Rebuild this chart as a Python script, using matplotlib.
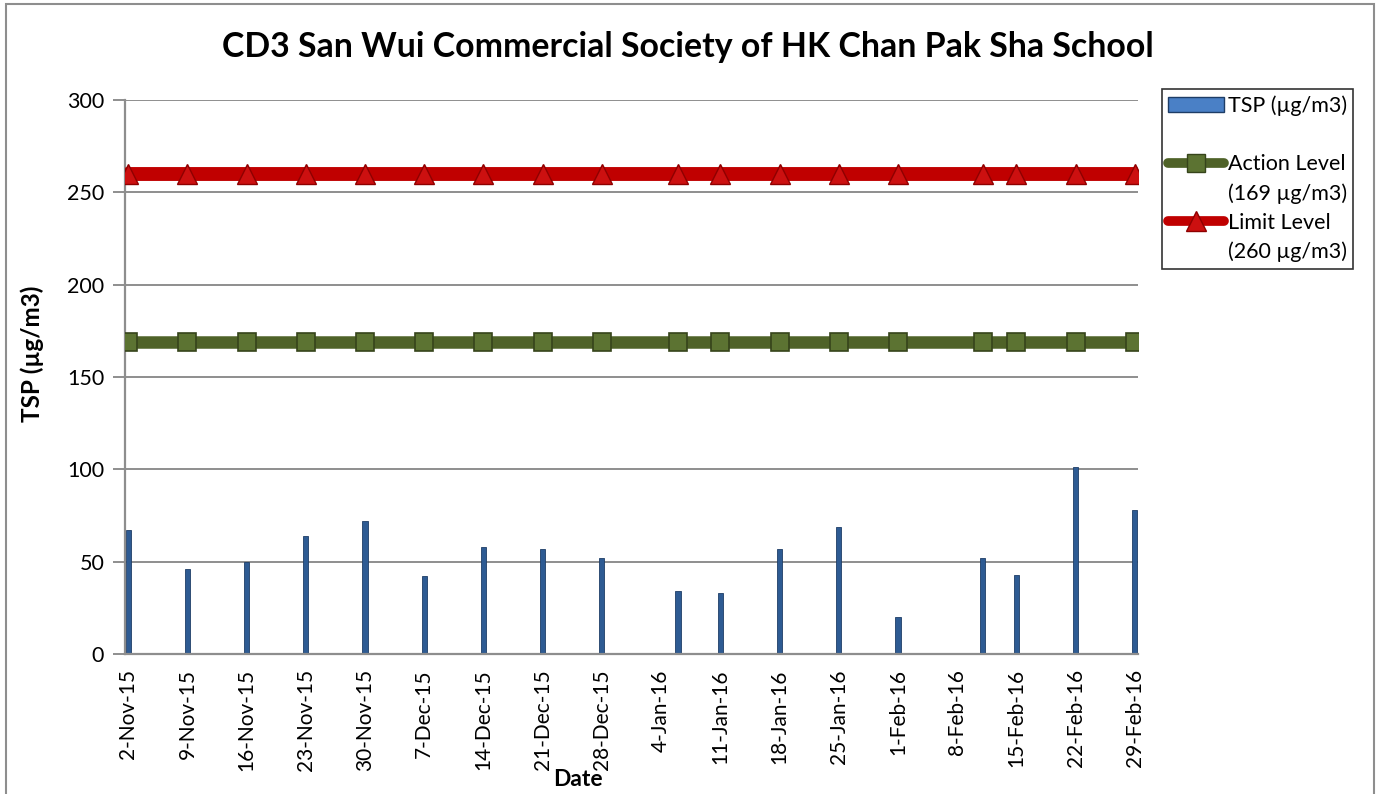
import matplotlib
matplotlib.use("Agg")
import matplotlib.pyplot as plt
from matplotlib.lines import Line2D
from matplotlib.patches import Rectangle, Patch
import pandas as pd

plt.rcParams['font.family'] = ['Lato', 'DejaVu Sans']

# ---- data ----
dates = ["2015-11-02", "2015-11-09", "2015-11-16", "2015-11-23", "2015-11-30",
         "2015-12-07", "2015-12-14", "2015-12-21", "2015-12-28", "2016-01-06",
         "2016-01-11", "2016-01-18", "2016-01-25", "2016-02-01", "2016-02-11",
         "2016-02-15", "2016-02-22", "2016-02-29"]
tsp = [67, 46, 50, 64, 72, 42, 58, 57, 52, 34, 33, 57, 69, 20, 52, 43, 101, 78]
action_level = [169] * len(dates)
limit_level = [260] * len(dates)
title = "CD3 San Wui Commercial Society of HK Chan Pak Sha School"
y_ticks = [0, 50, 100, 150, 200, 250, 300]

x = pd.to_datetime(dates)

W, H = 1379, 794
fig = plt.figure(figsize=(W / 100, H / 100), dpi=100)
ax = fig.add_axes([125 / W, 1 - 654 / H, (1138 - 125) / W, (654 - 100) / H])

grid_c = '#8E8E8E'
ax.set_ylim(0, 300)
ax.set_yticks(y_ticks)
ax.yaxis.grid(True, color=grid_c, linewidth=1.4)
ax.set_axisbelow(True)

ax.bar(x, tsp, width=0.6, color='#2E5B93', edgecolor='#1E3D66',
       linewidth=0.6, zorder=2, label='TSP (µg/m3)')
ax.plot(x, action_level, color='#4F6228', linewidth=9, solid_capstyle='round',
        marker='s', markersize=13, markerfacecolor='#5C7332',
        markeredgecolor='#36441B', markeredgewidth=1.2, zorder=3)
ax.plot(x, limit_level, color='#C00000', linewidth=10, solid_capstyle='round',
        marker='^', markersize=14, markerfacecolor='#CC1010',
        markeredgecolor='#8E0000', markeredgewidth=1.0, zorder=3)

start = pd.Timestamp("2015-11-02")
end = pd.Timestamp("2016-02-29")
ax.set_xlim(start - pd.Timedelta(hours=9), end + pd.Timedelta(hours=9))
ticks = pd.date_range(start, end, freq='7D')
ax.set_xticks(ticks)
ax.set_xticklabels([f"{d.day}-{d.strftime('%b')}-{d.strftime('%y')}" for d in ticks],
                   rotation=90, fontsize=15)
ax.tick_params(axis='x', length=0, pad=11)
ax.tick_params(axis='y', length=9, color=grid_c, width=1.4, labelsize=15.5, pad=6)

for s in ['top', 'right']:
    ax.spines[s].set_visible(False)
for s in ['left', 'bottom']:
    ax.spines[s].set_color(grid_c)
    ax.spines[s].set_linewidth(1.6)

fig.text(32 / W, 1 - 354 / H, "TSP (µg/m3)", fontsize=17.5, fontweight='bold',
         rotation=90, ha='center', va='center')
fig.text(578 / W, 1 - 780 / H, "Date", fontsize=16.5, fontweight='bold',
         ha='center', va='center')
fig.text(688 / W, 1 - 47 / H, title, fontsize=24.4, fontweight='bold',
         ha='center', va='center')

# legend
blank = Line2D([], [], linestyle='none', marker=None)
h_tsp = Patch(facecolor='#4A80C6', edgecolor='#1E3D66', linewidth=1)
h_act = Line2D([], [], color='#4F6228', linewidth=7, solid_capstyle='round',
               marker='s', markersize=13, markerfacecolor='#5C7332',
               markeredgecolor='#36441B')
h_lim = Line2D([], [], color='#C00000', linewidth=7, solid_capstyle='round',
               marker='^', markersize=14, markerfacecolor='#CC1010',
               markeredgecolor='#8E0000')
handles = [h_tsp, blank, h_act, blank, h_lim, blank]
labels = ['TSP (µg/m3)', ' ', 'Action Level', '(169 µg/m3)', 'Limit Level', '(260 µg/m3)']
leg = fig.legend(handles, labels, loc='upper left',
                 bbox_to_anchor=(1162 / W, 1 - 89 / H), fontsize=15.5,
                 frameon=True, fancybox=False, edgecolor='black',
                 handlelength=2.6, handletextpad=0.15, labelspacing=0.42,
                 borderpad=0.3, borderaxespad=0)
leg.get_frame().set_linewidth(1.2)

# outer chart border
fig.patches.append(Rectangle((6 / W, -0.02), (1374 - 6) / W, 1.02 - 4 / H,
                             transform=fig.transFigure, fill=False,
                             edgecolor='#8E8E8E', linewidth=1.5))

fig.savefig("out.png", dpi=100)
